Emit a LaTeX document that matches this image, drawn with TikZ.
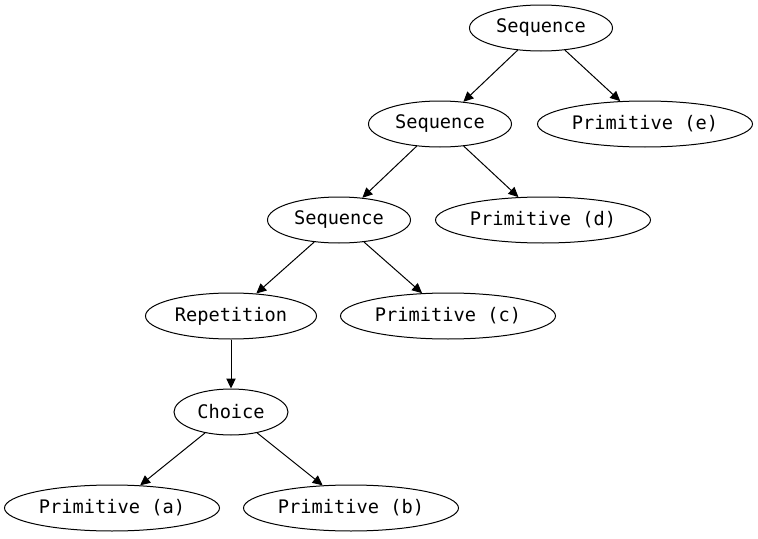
\documentclass[tikz,border=0pt]{standalone}
\usepackage{fontspec}
\setmonofont{DejaVu Sans Mono}
\usetikzlibrary{shapes.geometric,arrows.meta}
\begin{document}
\begin{tikzpicture}[x=0.75pt,y=-0.75pt,
  gnode/.style={draw,ellipse,inner sep=0pt,line width=0.75pt,minimum height=34.5pt,
    font=\ttfamily\fontsize{14pt}{16pt}\selectfont},
  seqw/.style={gnode,minimum width=107.25pt},
  primw/.style={gnode,minimum width=161.25pt},
  repw/.style={gnode,minimum width=128.25pt},
  chw/.style={gnode,minimum width=85.5pt},
  edge/.style={line width=0.75pt,-{Triangle[length=7.5pt,width=7pt]}}]
\useasboundingbox (0,0) rectangle (758,539);
\node[seqw] (s1) at (541,28) {Sequence};
\node[seqw] (s2) at (440,124) {Sequence};
\node[primw] (pe) at (645,124) {Primitive (e)};
\node[seqw] (s3) at (339,220) {Sequence};
\node[primw] (pd) at (543,220) {Primitive (d)};
\node[repw] (rep) at (231,316) {Repetition};
\node[primw] (pc) at (448,316) {Primitive (c)};
\node[chw] (ch) at (231,412) {Choice};
\node[primw] (pa) at (112,508) {Primitive (a)};
\node[primw] (pb) at (351,508) {Primitive (b)};
\draw[edge] (s1) -- (s2);
\draw[edge] (s1) -- (pe);
\draw[edge] (s2) -- (s3);
\draw[edge] (s2) -- (pd);
\draw[edge] (s3) -- (rep);
\draw[edge] (s3) -- (pc);
\draw[edge] (rep) -- (ch);
\draw[edge] (ch) -- (pa);
\draw[edge] (ch) -- (pb);
\end{tikzpicture}
\end{document}
